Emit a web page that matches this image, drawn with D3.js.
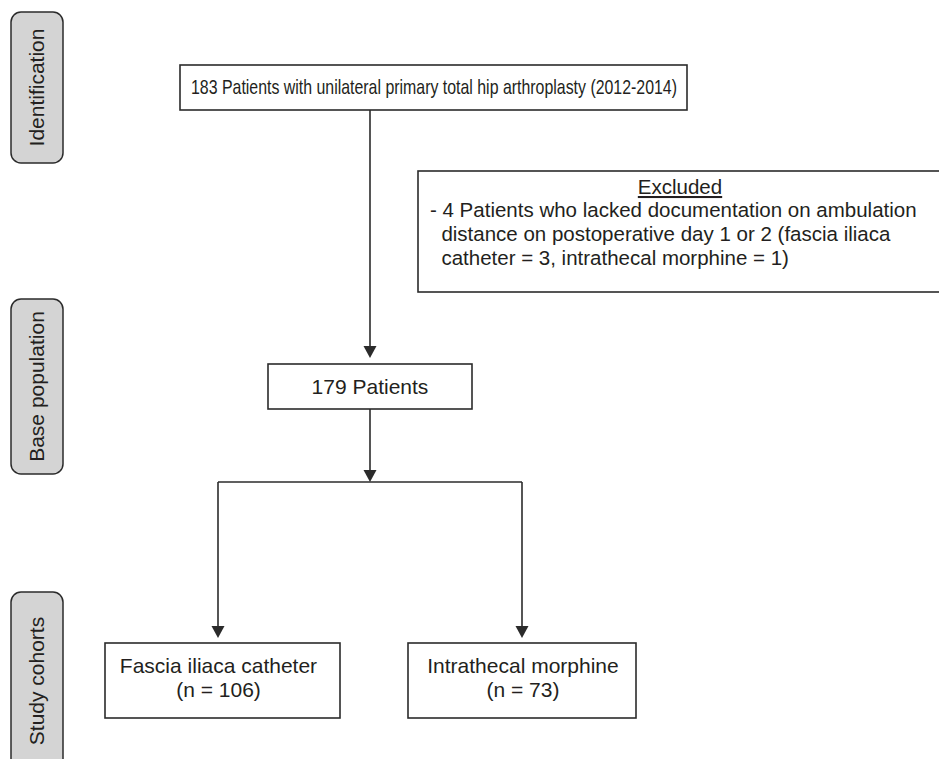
<!DOCTYPE html>
<html>
<head>
<meta charset="utf-8">
<script src="https://cdn.jsdelivr.net/npm/d3@7"></script>
<style>
  body { margin: 0; background: #fff; }
  text { font-family: "Liberation Sans", Arial, sans-serif; fill: #231f20; }
</style>
</head>
<body>
<script>
const width = 939;
const height = 759;

// flow values
const stages = ["Identification", "Base population", "Study cohorts"];
const totalPatients = 183;
const excludedPatients = 4;
const excludedByGroup = [3, 1];
const basePatients = 179;
const cohortNames = ["Fascia iliaca catheter", "Intrathecal morphine"];
const cohortCounts = [106, 73];

const excludedLines = [
    "- " + excludedPatients + " Patients who lacked documentation on ambulation",
    "  distance on postoperative day 1 or 2 (fascia iliaca",
    "  catheter = " + excludedByGroup[0] + ", intrathecal morphine = " + excludedByGroup[1] + ")"
];

const svg = d3.select('body').append('svg')
    .attr("width", width).attr("height", height);

const ink = "#2b2b2b";

// side stage labels
const stageBoxes = [[12, 163], [299, 474], [592, 770]];
stages.forEach((s, i) => {
    const [y0, y1] = stageBoxes[i];
    svg.append('rect')
        .attr("x", 11).attr("y", y0).attr("width", 52).attr("height", y1 - y0)
        .attr("rx", 10).attr("ry", 10)
        .style("fill", "#d4d4d4").style("stroke", ink).style("stroke-width", 1.5);
    const cy = (y0 + y1) / 2;
    svg.append('text')
        .attr("transform", "translate(37," + cy + ") rotate(-90)")
        .attr("text-anchor", "middle").attr("dy", "0.35em")
        .style("font-size", "21px")
        .text(s);
});

function box(x0, y0, x1, y1) {
    svg.append('rect')
        .attr("x", x0).attr("y", y0).attr("width", x1 - x0).attr("height", y1 - y0)
        .style("fill", "#fff").style("stroke", ink).style("stroke-width", 1.6);
}

function arrow(x, y0, y1) {
    svg.append('line')
        .attr("x1", x).attr("x2", x).attr("y1", y0).attr("y2", y1 - 10)
        .style("stroke", ink).style("stroke-width", 1.6);
    svg.append('path')
        .attr("d", d3.line()([[x - 6.5, y1 - 12], [x + 6.5, y1 - 12], [x, y1]]) + "Z")
        .style("fill", ink);
}

// top box
box(180, 65, 687, 110);
svg.append('text')
    .attr("x", 191).attr("y", 94)
    .attr("textLength", 486).attr("lengthAdjust", "spacingAndGlyphs")
    .style("font-size", "21px")
    .text(totalPatients + " Patients with unilateral primary total hip arthroplasty (2012-2014)");

// excluded box
box(418, 171, 942, 292);
svg.append('text')
    .attr("x", 680).attr("y", 194).attr("text-anchor", "middle")
    .style("font-size", "20.5px").style("text-decoration", "underline")
    .text("Excluded");
svg.selectAll('text.excl').data(excludedLines).enter().append('text')
    .attr("class", "excl")
    .attr("x", 430).attr("y", (d, i) => 217 + i * 24)
    .attr("xml:space", "preserve")
    .style("font-size", "20.5px").style("white-space", "pre")
    .text(d => d);

// main trunk
arrow(370, 110, 358);
box(268, 364, 472, 409);
svg.append('text')
    .attr("x", 370).attr("y", 394).attr("text-anchor", "middle")
    .style("font-size", "21px")
    .text(basePatients + " Patients");

arrow(370, 409, 482);

const cohortX = [218, 522];
const cohortBoxes = [[105, 340], [408, 636]];
svg.append('line')
    .attr("x1", cohortX[0]).attr("x2", cohortX[1]).attr("y1", 482).attr("y2", 482)
    .style("stroke", ink).style("stroke-width", 1.6);

cohortNames.forEach((n, i) => {
    arrow(cohortX[i], 482, 638);
    box(cohortBoxes[i][0], 643, cohortBoxes[i][1], 718);
    const cx = i === 0 ? 218.5 : 523;
    svg.append('text')
        .attr("x", cx).attr("y", 673).attr("text-anchor", "middle")
        .style("font-size", "21px").text(n);
    svg.append('text')
        .attr("x", cx).attr("y", 697).attr("text-anchor", "middle")
        .style("font-size", "21px").text("(n = " + cohortCounts[i] + ")");
});
</script>
</body>
</html>
